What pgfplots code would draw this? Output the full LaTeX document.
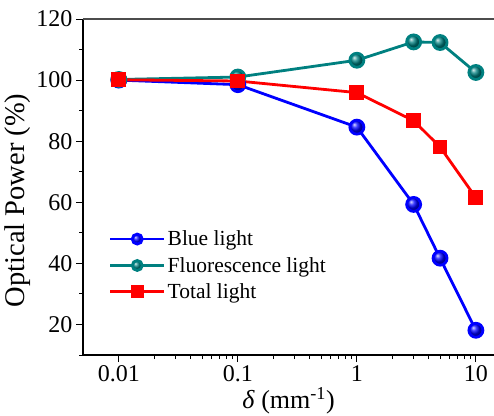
\documentclass[border=0pt]{standalone}
\usepackage{fontspec}
\setmainfont{Liberation Serif}
\usepackage{pgfplots}
\pgfplotsset{compat=1.18}
\definecolor{tealc}{RGB}{0,128,128}
\begin{document}
\begin{tikzpicture}
  \begin{axis}[
      scale only axis, width=411pt, height=336pt,
      xmode=log, xmin=0.005, xmax=14.2,
      ymin=10, ymax=120,
      axis x line*=bottom, axis y line*=left,
      axis line style={line width=1.1pt, -},
      tick align=outside, tick style={black, line width=0.9pt},
      major tick length=7pt, minor tick length=4pt,
      xtick={0.01,0.1,1,10}, xticklabels={0.01,0.1,1,10},
      ytick={20,40,...,120}, minor ytick={10,30,...,110},
      /pgf/number format/assume math mode=true,
      ticklabel style={font=\fontsize{24}{28}\selectfont},
      xlabel={\textit{δ} (mm\textsuperscript{-1})},
      ylabel={Optical Power (\%)},
      xlabel style={font=\fontsize{26}{30}\selectfont, yshift=1pt},
      ylabel style={font=\fontsize{28.5}{32}\selectfont, at={(ticklabel cs:0.46)}, yshift=-1pt},
      legend cell align=left,
      legend style={draw=none, fill=none, at={(0.055,0.382)}, anchor=north west,
        font=\fontsize{21.5}{25}\selectfont, row sep=6pt},
      legend image code/.code={
        \draw[mark repeat=2, mark phase=2, #1, mark size=5pt] plot coordinates {(0cm,0cm) (0.95cm,0cm) (1.9cm,0cm)};},
      clip=false,
    ]
    \draw[black!70, line width=1.1pt] (rel axis cs:0,1) -- (rel axis cs:1,1);
    \addplot[blue, line width=2.8pt, mark=ball, mark size=7pt,
      mark options={ball color=blue}] coordinates {
      (0.01,100) (0.1,98.5) (1,84.6) (3,59.3) (5,41.7) (10,18.1)};
    \addlegendentry{Blue light}
    \addplot[tealc, line width=2.8pt, mark=ball, mark size=7pt,
      mark options={ball color=tealc}] coordinates {
      (0.01,100.2) (0.1,101) (1,106.5) (3,112.5) (5,112.3) (10,102.5)};
    \addlegendentry{Fluorescence light}
    \addplot[red, line width=2.8pt, mark=square*, mark size=6pt] coordinates {
      (0.01,100.1) (0.1,99.7) (1,95.9) (3,86.7) (5,78.1) (10,61.5)};
    \addlegendentry{Total light}
  \end{axis}
  \pgfresetboundingbox
  \path (-83pt,-60pt) rectangle (411pt,355pt);
\end{tikzpicture}
\end{document}
